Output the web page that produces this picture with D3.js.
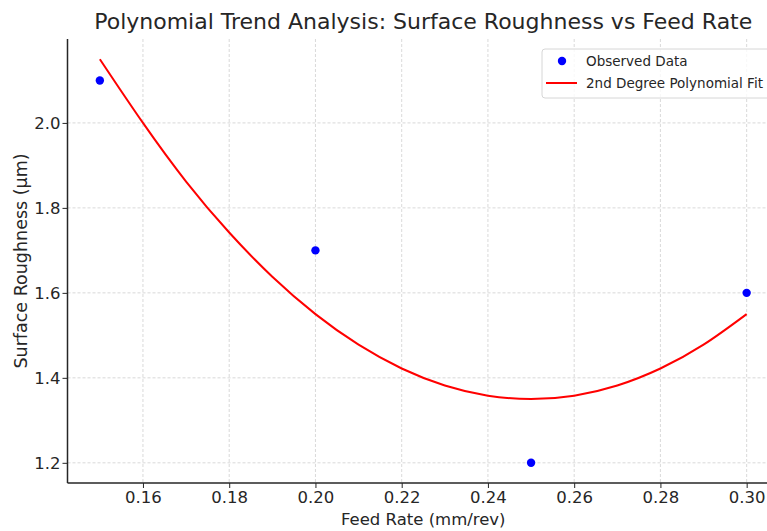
<!DOCTYPE html>
<html>
<head>
<meta charset="utf-8">
<script src="https://cdn.jsdelivr.net/npm/d3@7"></script>
<style>
  body { margin: 0; background: white; }
  svg { display: block; font-family: "DejaVu Sans", sans-serif; }
</style>
</head>
<body>
<svg></svg>
<script>
const feedRate = [0.15, 0.20, 0.25, 0.30];
const roughness = [2.1, 1.7, 1.2, 1.6];

// fitted curve
const fitX = [0.15, 0.16, 0.17, 0.18, 0.19, 0.20, 0.21, 0.22, 0.23, 0.24, 0.25, 0.26, 0.27, 0.28, 0.29, 0.30];
const fitY = [2.15, 2.00, 1.862, 1.742, 1.638, 1.55, 1.478, 1.422, 1.382, 1.358, 1.35, 1.358, 1.382, 1.422, 1.478, 1.55];

const xTicks = [0.16, 0.18, 0.20, 0.22, 0.24, 0.26, 0.28, 0.30];
const yTicks = [1.2, 1.4, 1.6, 1.8, 2.0];

const w = 767;
const h = 531;
const margin = {left: 67.5, top: 39, bottom: 483, right: 779};

const svg = d3.select("svg")
    .attr("width", w)
    .attr("height", h)
    .attr("viewBox", [0, 0, w, h]);

const x = d3.scaleLinear().domain([0.1425, 0.3075]).range([margin.left, margin.right]);
const y = d3.scaleLinear().domain([1.1525, 2.1975]).range([margin.bottom, margin.top]);

const textColor = "#262626";

// grid
svg.append("g")
    .selectAll("line")
    .data(xTicks)
    .join("line")
    .attr("x1", d => x(d)).attr("x2", d => x(d))
    .attr("y1", margin.top).attr("y2", margin.bottom)
    .attr("stroke", "#cfcfcf").attr("stroke-width", 0.8)
    .attr("stroke-dasharray", "3,2");

svg.append("g")
    .selectAll("line")
    .data(yTicks)
    .join("line")
    .attr("x1", margin.left).attr("x2", margin.right)
    .attr("y1", d => y(d)).attr("y2", d => y(d))
    .attr("stroke", "#cfcfcf").attr("stroke-width", 0.8)
    .attr("stroke-dasharray", "3,2");

// axes
const xAxis = svg.append("g")
    .attr("transform", `translate(0,${margin.bottom})`)
    .call(d3.axisBottom(x).tickValues(xTicks).tickFormat(d3.format(".2f")).tickSize(5).tickPadding(3));

const yAxis = svg.append("g")
    .attr("transform", `translate(${margin.left},0)`)
    .call(d3.axisLeft(y).tickValues(yTicks).tickFormat(d3.format(".1f")).tickSize(5).tickPadding(2));

[xAxis, yAxis].forEach(a => {
    a.select(".domain").remove();
    a.selectAll(".tick line").attr("stroke", textColor).attr("stroke-width", 1);
    a.selectAll(".tick text")
        .attr("font-size", "16.5px")
        .attr("font-family", "DejaVu Sans")
        .attr("fill", textColor);
});

// spines (left + bottom only, right edge falls outside)
svg.append("line")
    .attr("x1", margin.left).attr("x2", margin.left)
    .attr("y1", margin.top).attr("y2", margin.bottom)
    .attr("stroke", textColor).attr("stroke-width", 1.5);
svg.append("line")
    .attr("x1", margin.left).attr("x2", margin.right)
    .attr("y1", margin.bottom).attr("y2", margin.bottom)
    .attr("stroke", textColor).attr("stroke-width", 1.5);

// fit line
const line = d3.line()
    .x((d, i) => x(fitX[i]))
    .y(d => y(d))
    .curve(d3.curveNatural);

svg.append("path")
    .datum(fitY)
    .attr("d", line)
    .attr("fill", "none")
    .attr("stroke", "#ff0000")
    .attr("stroke-width", 2);

// observed points
svg.append("g")
    .selectAll("circle")
    .data(roughness)
    .join("circle")
    .attr("cx", (d, i) => x(feedRate[i]))
    .attr("cy", d => y(d))
    .attr("r", 4.2)
    .attr("fill", "#0000ff");

// title + labels
svg.append("text")
    .attr("x", (margin.left + margin.right) / 2)
    .attr("y", 29)
    .attr("text-anchor", "middle")
    .attr("font-size", "22px")
    .attr("fill", textColor)
    .text("Polynomial Trend Analysis: Surface Roughness vs Feed Rate");

svg.append("text")
    .attr("x", (margin.left + margin.right) / 2)
    .attr("y", 525)
    .attr("text-anchor", "middle")
    .attr("font-size", "16.5px")
    .attr("fill", textColor)
    .text("Feed Rate (mm/rev)");

svg.append("text")
    .attr("transform", `translate(27,${(margin.top + margin.bottom) / 2}) rotate(-90)`)
    .attr("text-anchor", "middle")
    .attr("font-size", "17.5px")
    .attr("fill", textColor)
    .text("Surface Roughness (µm)");

// legend
const legend = svg.append("g").attr("transform", "translate(542,49)");
legend.append("rect")
    .attr("width", 240).attr("height", 49)
    .attr("rx", 3)
    .attr("fill", "white").attr("fill-opacity", 0.8)
    .attr("stroke", "#d6d6d6");
legend.append("circle")
    .attr("cx", 20).attr("cy", 12).attr("r", 4.2)
    .attr("fill", "#0000ff");
legend.append("line")
    .attr("x1", 4).attr("x2", 35).attr("y1", 34).attr("y2", 34)
    .attr("stroke", "#ff0000").attr("stroke-width", 2);
legend.append("text")
    .attr("x", 44).attr("y", 17)
    .attr("font-size", "13.5px").attr("fill", textColor)
    .text("Observed Data");
legend.append("text")
    .attr("x", 44).attr("y", 39)
    .attr("font-size", "13.5px").attr("fill", textColor)
    .text("2nd Degree Polynomial Fit");
</script>
</body>
</html>
